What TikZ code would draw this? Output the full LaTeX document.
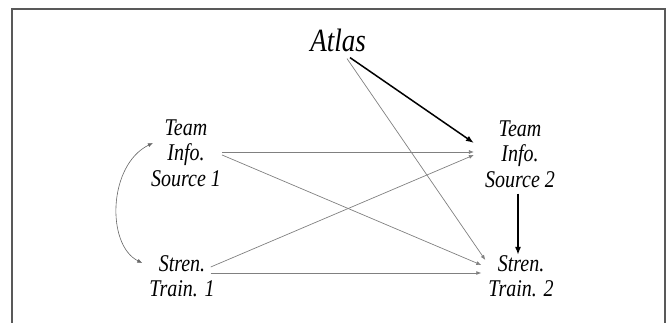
\documentclass[tikz,border=0pt]{standalone}
\usepackage{fontspec}
\setmainfont{Liberation Serif}
\usetikzlibrary{arrows.meta}
\newcommand\tall[1]{\scalebox{1}[1.2]{#1}}
\begin{document}
\begin{tikzpicture}[x=1pt,y=1pt,
  lbl/.style={inner sep=0pt, align=center, font=\fontsize{20}{25.5}\selectfont\itshape},
  thin/.style={draw=black!50, line width=0.7pt, -{Latex[length=5pt,width=4pt]}},
  bold/.style={draw=black, line width=1.5pt, -{Latex[length=8pt,width=6pt]}},
  frame/.style={draw=black!65, line width=1.3pt}]
\useasboundingbox (0,0) rectangle (668,-323);
\begin{scope}
\clip (0,0) rectangle (668,-323);
\draw[frame] (12,-340) -- (12,-9) -- (665,-9) -- (665,-340);
\end{scope}
\node[inner sep=0pt, font=\fontsize{27}{30}\selectfont\itshape] (atlas) at (338,-40) {\tall{Atlas}};
\node[lbl] (s1) at (186,-153) {\tall{Team}\\\tall{Info.}\\\tall{Source 1}};
\node[lbl] (s2) at (520,-154) {\tall{Team}\\\tall{Info.}\\\tall{Source 2}};
\node[lbl] (t1) at (182,-276) {\tall{Stren.}\\\tall{Train. 1}};
\node[lbl] (t2) at (521,-276) {\tall{Stren.}\\\tall{Train. 2}};
% connector end points anchored to nodes
\coordinate (aA) at ([xshift=12pt,yshift=-6pt]atlas.south);
\coordinate (aB) at ([xshift=9pt,yshift=-7pt]atlas.south);
\coordinate (s1o) at ([xshift=1pt,yshift=1pt]s1.east);
\coordinate (s1p) at ([xshift=1pt,yshift=-2pt]s1.east);
\coordinate (s2i) at ([xshift=-11pt,yshift=2pt]s2.west);
\coordinate (s2j) at ([xshift=-11pt,yshift=-1pt]s2.west);
\coordinate (s2k) at ([xshift=-11pt,yshift=11pt]s2.west);
\coordinate (t1o) at ([xshift=-4pt,yshift=9pt]t1.east);
\coordinate (t1p) at ([xshift=-4pt,yshift=3pt]t1.east);
\coordinate (t2i) at ([xshift=-7pt,yshift=11pt]t2.west);
\coordinate (t2j) at ([xshift=-7pt,yshift=3pt]t2.west);
\coordinate (t2k) at ([xshift=-3pt,yshift=16pt]t2.west);
\coordinate (s1c) at ([xshift=2pt,yshift=10pt]s1.west);
\coordinate (t1c) at ([xshift=-7pt,yshift=13pt]t1.west);
\draw[thin] (aB) -- (t2k);
\draw[thin] (s1o) -- (s2i);
\draw[thin] (s1p) -- (t2i);
\draw[thin] (t1o) -- (s2j);
\draw[thin] (t1p) -- (t2j);
\draw[bold] (aA) -- (s2k);
\draw[bold] ([xshift=-2pt,yshift=-6pt]s2.south) -- ([xshift=-3pt,yshift=0pt]t2.north);
\draw[draw=black!60, line width=0.6pt, {Latex[length=5pt,width=4pt]}-{Latex[length=5pt,width=4pt]}]
  (s1c) .. controls (108,-165) and (106,-245) .. (t1c);
\end{tikzpicture}
\end{document}
